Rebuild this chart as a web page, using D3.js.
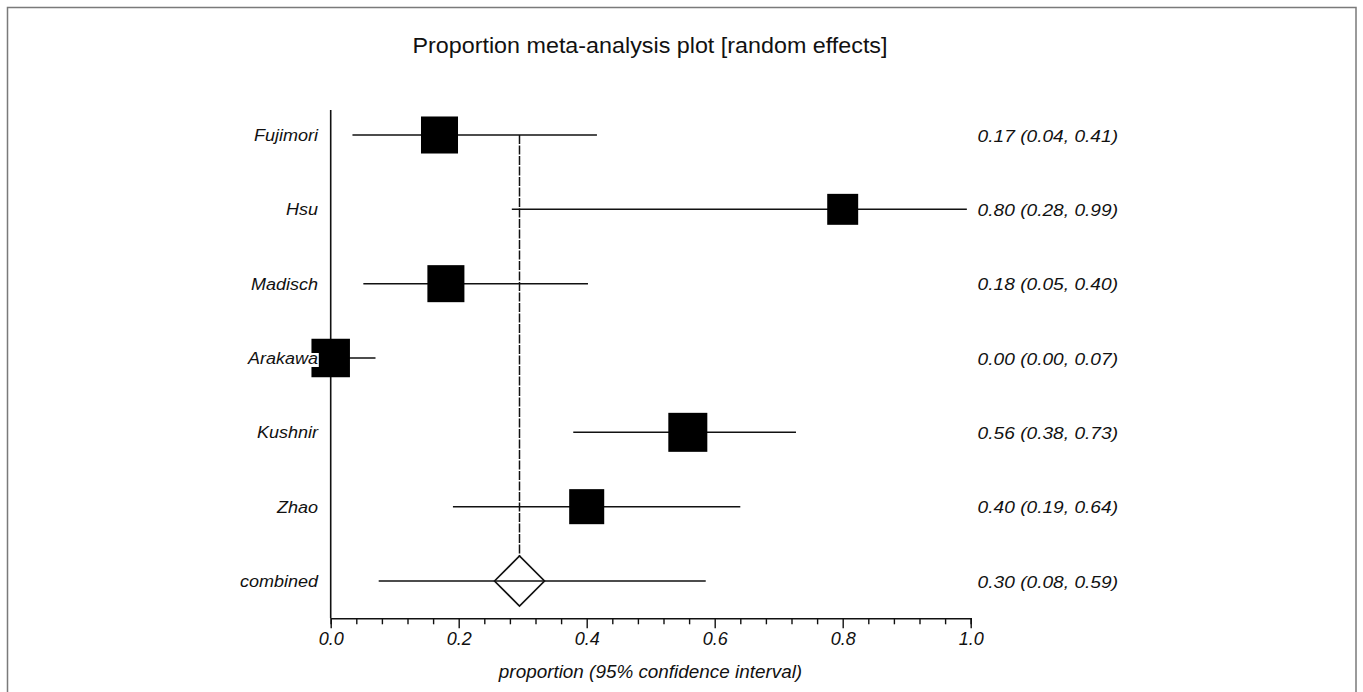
<!DOCTYPE html>
<html>
<head>
<meta charset="utf-8">
<script src="https://cdn.jsdelivr.net/npm/d3@7"></script>
<style>
  body { margin: 0; background: #fff; }
  text { font-family: "Liberation Sans", Arial, sans-serif; fill: #111; }
</style>
</head>
<body>
<script>
const WIDTH = 1363;
const HEIGHT = 692;

// studies, top to bottom, then the pooled row
var studies = ['Fujimori', 'Hsu', 'Madisch', 'Arakawa', 'Kushnir', 'Zhao'];
var estimate = [0.17, 0.80, 0.18, 0.00, 0.558, 0.40];
var lower = [0.034, 0.283, 0.051, 0.00, 0.379, 0.191];
var upper = [0.416, 0.994, 0.402, 0.070, 0.727, 0.640];
var weight = [17.3, 12.1, 17.3, 18.7, 19.2, 15.5];
var valueText = ['0.17 (0.04, 0.41)', '0.80 (0.28, 0.99)', '0.18 (0.05, 0.40)',
    '0.00 (0.00, 0.07)', '0.56 (0.38, 0.73)', '0.40 (0.19, 0.64)'];

var pooledName = 'combined';
var pooled = 0.295;
var pooledLower = 0.075;
var pooledUpper = 0.586;
var pooledText = '0.30 (0.08, 0.59)';

var tickLabels = ['0.0', '0.2', '0.4', '0.6', '0.8', '1.0'];

var svg = d3.select('body')
    .append('svg')
    .attr('width', WIDTH)
    .attr('height', HEIGHT);

// frame
svg.append('rect')
    .attr('x', 7.5)
    .attr('y', 7.5)
    .attr('width', 1348.5)
    .attr('height', 720)
    .attr('fill', 'none')
    .attr('stroke', '#7a7a7a')
    .attr('stroke-width', 1.5);

var x = d3.scaleLinear().domain([0, 1]).range([330.7, 970.7]);
var y = d3.scalePoint().domain(studies.concat([pooledName])).range([135, 581]);
var side = d3.scaleSqrt().domain([0, 19.2]).range([0, 39]);
var axisY = 618.3;
var D = 25;

function stretched(parent, tx, ty, s, str, size, anchor, style) {
    var g = parent.append('g')
        .attr('transform', 'translate(' + tx + ',' + ty + ') scale(' + s + ',1)');
    g.append('text')
        .attr('x', 0)
        .attr('y', 0)
        .attr('font-size', size)
        .attr('font-style', style || 'normal')
        .attr('text-anchor', anchor)
        .text(str);
    return g;
}

// title
stretched(svg, 650, 53, 1.06, 'Proportion meta-analysis plot [random effects]', 22, 'middle');

// vertical axis line
svg.append('line')
    .attr('x1', x(0)).attr('x2', x(0))
    .attr('y1', 110).attr('y2', axisY)
    .attr('stroke', '#111')
    .attr('stroke-width', 1.6);

// pooled estimate reference line
svg.append('line')
    .attr('x1', x(pooled)).attr('x2', x(pooled))
    .attr('y1', y(studies[0])).attr('y2', y(pooledName) - D)
    .attr('stroke', '#111')
    .attr('stroke-width', 1.5)
    .attr('stroke-dasharray', '9,1.5');

var rows = studies.map(function(s, i) {
    return { name: s, est: estimate[i], lo: lower[i], hi: upper[i], w: weight[i], txt: valueText[i] };
});

// confidence intervals
svg.selectAll('line.ci')
    .data(rows)
    .enter()
    .append('line')
    .attr('class', 'ci')
    .attr('x1', function(d) { return x(d.lo); })
    .attr('x2', function(d) { return x(d.hi); })
    .attr('y1', function(d) { return y(d.name); })
    .attr('y2', function(d) { return y(d.name); })
    .attr('stroke', '#111')
    .attr('stroke-width', 1.5);

svg.append('line')
    .attr('x1', x(pooledLower)).attr('x2', x(pooledUpper))
    .attr('y1', y(pooledName)).attr('y2', y(pooledName))
    .attr('stroke', '#111')
    .attr('stroke-width', 1.5);

// weighted squares
svg.selectAll('rect.box')
    .data(rows)
    .enter()
    .append('rect')
    .attr('class', 'box')
    .attr('x', function(d) { return x(d.est) - side(d.w) / 2; })
    .attr('y', function(d) { return y(d.name) - side(d.w) / 2; })
    .attr('width', function(d) { return side(d.w); })
    .attr('height', function(d) { return side(d.w); })
    .attr('fill', '#000');

// pooled diamond
var cx = x(pooled);
var cy = y(pooledName);
svg.append('path')
    .attr('d', 'M' + (cx - D) + ',' + cy + 'L' + cx + ',' + (cy - D) +
        'L' + (cx + D) + ',' + cy + 'L' + cx + ',' + (cy + D) + 'Z')
    .attr('fill', 'none')
    .attr('stroke', '#111')
    .attr('stroke-width', 1.7);

// row labels (with white backing, as in the original)
rows.concat([{ name: pooledName, txt: pooledText }]).forEach(function(d) {
    var g = stretched(svg, 318, y(d.name) + 6, 1.06, d.name, 17, 'end', 'italic');
    var bb = g.select('text').node().getBBox();
    g.insert('rect', 'text')
        .attr('x', bb.x)
        .attr('y', -11)
        .attr('width', bb.width + 0.5)
        .attr('height', 14)
        .attr('fill', '#fff');
    stretched(svg, 1118, y(d.name) + 6.5, 1.16, d.txt, 16.5, 'end', 'italic');
});

// x axis
var axis = d3.axisBottom(x)
    .tickValues(d3.range(0, 26).map(function(i) { return i * 0.04; }))
    .tickSizeOuter(0)
    .tickSize(6)
    .tickFormat(function(d, i) { return i % 5 === 0 ? tickLabels[i / 5] : ''; });

var gx = svg.append('g')
    .attr('transform', 'translate(0,' + axisY + ')')
    .call(axis);
gx.select('.domain').attr('stroke', '#111').attr('stroke-width', 1.6);
gx.selectAll('.tick line')
    .attr('stroke', '#111')
    .attr('stroke-width', 1.4)
    .attr('y2', function(d, i) { return i % 5 === 0 ? 10 : 6; });
gx.selectAll('.tick text')
    .attr('y', 27)
    .attr('dy', 0)
    .attr('font-size', 18)
    .attr('font-style', 'italic')
    .attr('font-family', '"Liberation Sans", Arial, sans-serif')
    .attr('fill', '#111');

// axis title
stretched(svg, 650.5, 678, 1.05, 'proportion (95% confidence interval)', 18, 'middle', 'italic');
</script>
</body>
</html>
